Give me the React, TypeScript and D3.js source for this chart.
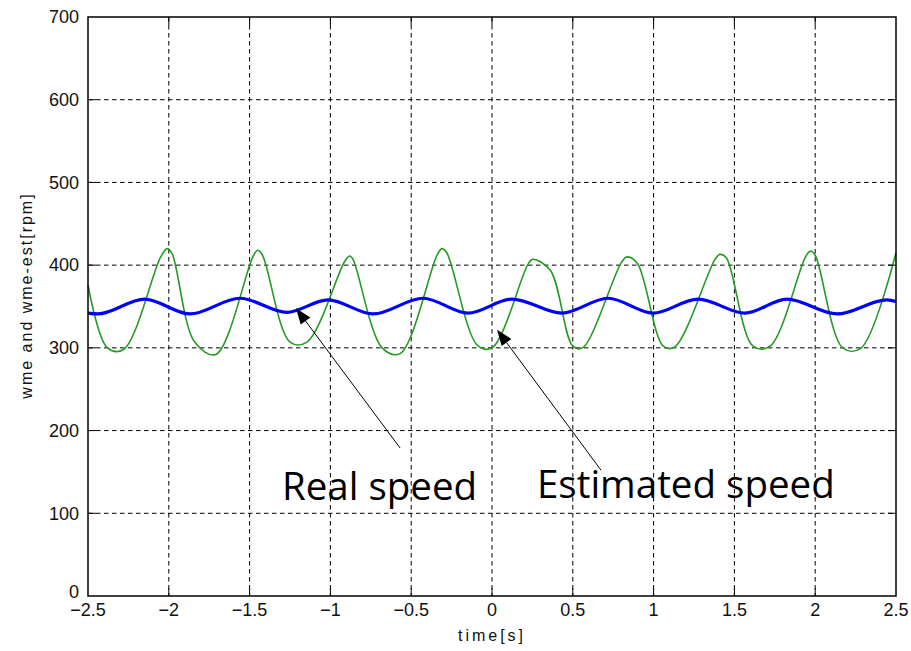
import { useEffect, useRef } from "react"
import * as d3 from "d3"

// axis ticks
const xTicks = [-2.5, -2, -1.5, -1, -0.5, 0, 0.5, 1, 1.5, 2, 2.5]
const yTicks = [0, 100, 200, 300, 400, 500, 600, 700]

// estimated speed (green)
const estTime = [-2.5, -2.38, -2.28, -2.05, -2.01, -1.98, -1.84, -1.71, -1.48, -1.45, -1.42, -1.25, -1.145,
  -0.91, -0.88, -0.86, -0.68, -0.57, -0.34, -0.31, -0.28, -0.09, 0.0, 0.22, 0.25, 0.36, 0.5, 0.56,
  0.8, 0.835, 0.9, 1.06, 1.13, 1.38, 1.41, 1.45, 1.615, 1.72, 1.94, 1.97, 2.0, 2.17, 2.28, 2.5]
const estSpeed = [376, 300, 298, 410, 420, 414, 307, 292, 410, 418, 412, 307, 307,
  405, 411, 407, 300, 293, 412, 420, 415, 303, 300, 400, 407, 394, 302, 300,
  403, 410, 402, 302, 301, 407, 413, 409, 302, 302, 410, 417, 412, 300, 299, 415]

// real speed (blue)
const realTime = [-2.5, -2.44, -2.15, -1.87, -1.56, -1.27, -1.015, -0.736, -0.427, -0.149, 0.124,
  0.433, 0.718, 0.996, 1.275, 1.566, 1.825, 2.135, 2.444, 2.5]
const realSpeed = [342, 341, 359, 341, 360, 343, 358, 341, 360, 342, 359,
  342, 360, 342, 359, 342, 359, 341, 358, 356]

// annotation labels and arrows (data space)
const noteText = ["Real speed", "Estimated speed"]
const noteTextAt = [[-1.3, 116], [0.278, 118]]
const noteTail = [[-0.569, 179], [0.675, 152]]
const noteTip = [[-1.213, 348], [0.031, 322]]

function Chart({ width, height }: { width: number; height: number }) {
  const svgRef = useRef<SVGSVGElement>(null)

  useEffect(() => {
    const svg = d3.select(svgRef.current)
    svg.selectAll("*").remove()

    const margin = { top: 17, right: 15, bottom: 55, left: 88 }
    const w = width - margin.left - margin.right
    const h = height - margin.top - margin.bottom

    const g = svg.append("g").attr("transform", `translate(${margin.left},${margin.top})`)

    const x = d3.scaleLinear().domain([-2.5, 2.5]).range([0, w])
    const y = d3.scaleLinear().domain([0, 700]).range([h, 0])

    // dashed grid
    g.selectAll(".vgrid").data(xTicks.slice(1, -1)).enter().append("line")
      .attr("x1", d => x(d)).attr("x2", d => x(d)).attr("y1", 0).attr("y2", h)
      .attr("stroke", "#000").attr("stroke-width", 1).attr("stroke-dasharray", "4.5,3.5")
    g.selectAll(".hgrid").data(yTicks.slice(1, -1)).enter().append("line")
      .attr("x1", 0).attr("x2", w).attr("y1", d => y(d)).attr("y2", d => y(d))
      .attr("stroke", "#000").attr("stroke-width", 1).attr("stroke-dasharray", "4.5,3.5")

    // lines
    const est = d3.line<number>().x((_, i) => x(estTime[i])).y(d => y(d)).curve(d3.curveCatmullRom.alpha(0.5))
    const real = d3.line<number>().x((_, i) => x(realTime[i])).y(d => y(d)).curve(d3.curveMonotoneX)

    g.append("path").attr("d", est(estSpeed)).attr("fill", "none")
      .attr("stroke", "#249c24").attr("stroke-width", 1.6).attr("stroke-linejoin", "round")
    g.append("path").attr("d", real(realSpeed)).attr("fill", "none")
      .attr("stroke", "#0000ff").attr("stroke-width", 3.2).attr("stroke-linejoin", "round")

    // inside ticks on all four sides
    const tl = 8
    xTicks.slice(1, -1).forEach(d => {
      g.append("line").attr("x1", x(d)).attr("x2", x(d)).attr("y1", h).attr("y2", h - tl).attr("stroke", "#000")
      g.append("line").attr("x1", x(d)).attr("x2", x(d)).attr("y1", 0).attr("y2", tl).attr("stroke", "#000")
    })
    yTicks.slice(1, -1).forEach(d => {
      g.append("line").attr("x1", 0).attr("x2", tl).attr("y1", y(d)).attr("y2", y(d)).attr("stroke", "#000")
      g.append("line").attr("x1", w).attr("x2", w - tl).attr("y1", y(d)).attr("y2", y(d)).attr("stroke", "#000")
    })

    // box
    g.append("rect").attr("x", 0).attr("y", 0).attr("width", w).attr("height", h)
      .attr("fill", "none").attr("stroke", "#000").attr("stroke-width", 1.5)

    const fmt = d3.format("")
    const tickFont = "'Liberation Sans', sans-serif"

    g.selectAll(".xlab").data(xTicks).enter().append("text")
      .attr("x", d => x(d)).attr("y", h + 14).attr("dy", "0.35em")
      .attr("text-anchor", "middle").attr("font-family", tickFont).attr("font-size", 18)
      .attr("fill", "#111").text(d => fmt(d))
    g.selectAll(".ylab").data(yTicks).enter().append("text")
      .attr("x", -9).attr("y", d => y(d) - (d === 0 ? 4 : 0)).attr("dy", "0.35em")
      .attr("text-anchor", "end").attr("font-family", tickFont).attr("font-size", 18)
      .attr("fill", "#111").text(d => fmt(d))

    // axis titles
    g.append("text").attr("x", w / 2).attr("y", h + 45).attr("text-anchor", "middle")
      .attr("font-family", "'Liberation Sans', sans-serif").attr("font-size", 16)
      .attr("letter-spacing", 3).attr("fill", "#111").text("time[s]")
    g.append("text").attr("transform", `translate(${-56},${h / 2 - 11}) rotate(-90)`)
      .attr("text-anchor", "middle").attr("font-family", "'Liberation Sans', sans-serif")
      .attr("font-size", 16).attr("letter-spacing", 2).attr("fill", "#111").text("wme and wme-est[rpm]")

    // annotations
    noteText.forEach((t, i) => {
      const [x0, y0] = noteTail[i]
      const [x1, y1] = noteTip[i]
      const ax = x(x0), ay = y(y0), bx = x(x1), by = y(y1)
      const len = Math.hypot(bx - ax, by - ay)
      const ux = (bx - ax) / len, uy = (by - ay) / len
      const hl = 16, hw = 6
      const baseX = bx - ux * hl, baseY = by - uy * hl
      g.append("line").attr("x1", ax).attr("y1", ay).attr("x2", baseX).attr("y2", baseY)
        .attr("stroke", "#000").attr("stroke-width", 1)
      g.append("path")
        .attr("d", `M${bx},${by}L${baseX - uy * hw},${baseY + ux * hw}L${baseX + uy * hw},${baseY - ux * hw}Z`)
        .attr("fill", "#000")
      g.append("text").attr("x", x(noteTextAt[i][0])).attr("y", y(noteTextAt[i][1]))
        .attr("font-family", "'Open Sans', sans-serif").attr("font-size", 38.5)
        .attr("fill", "#000").text(t)
    })
  }, [width, height])

  return <svg ref={svgRef} width={width} height={height} style={{ position: "absolute", left: 0, top: 0, background: "#fff" }} />
}

export default function App() {
  return <Chart width={911} height={651} />
}
